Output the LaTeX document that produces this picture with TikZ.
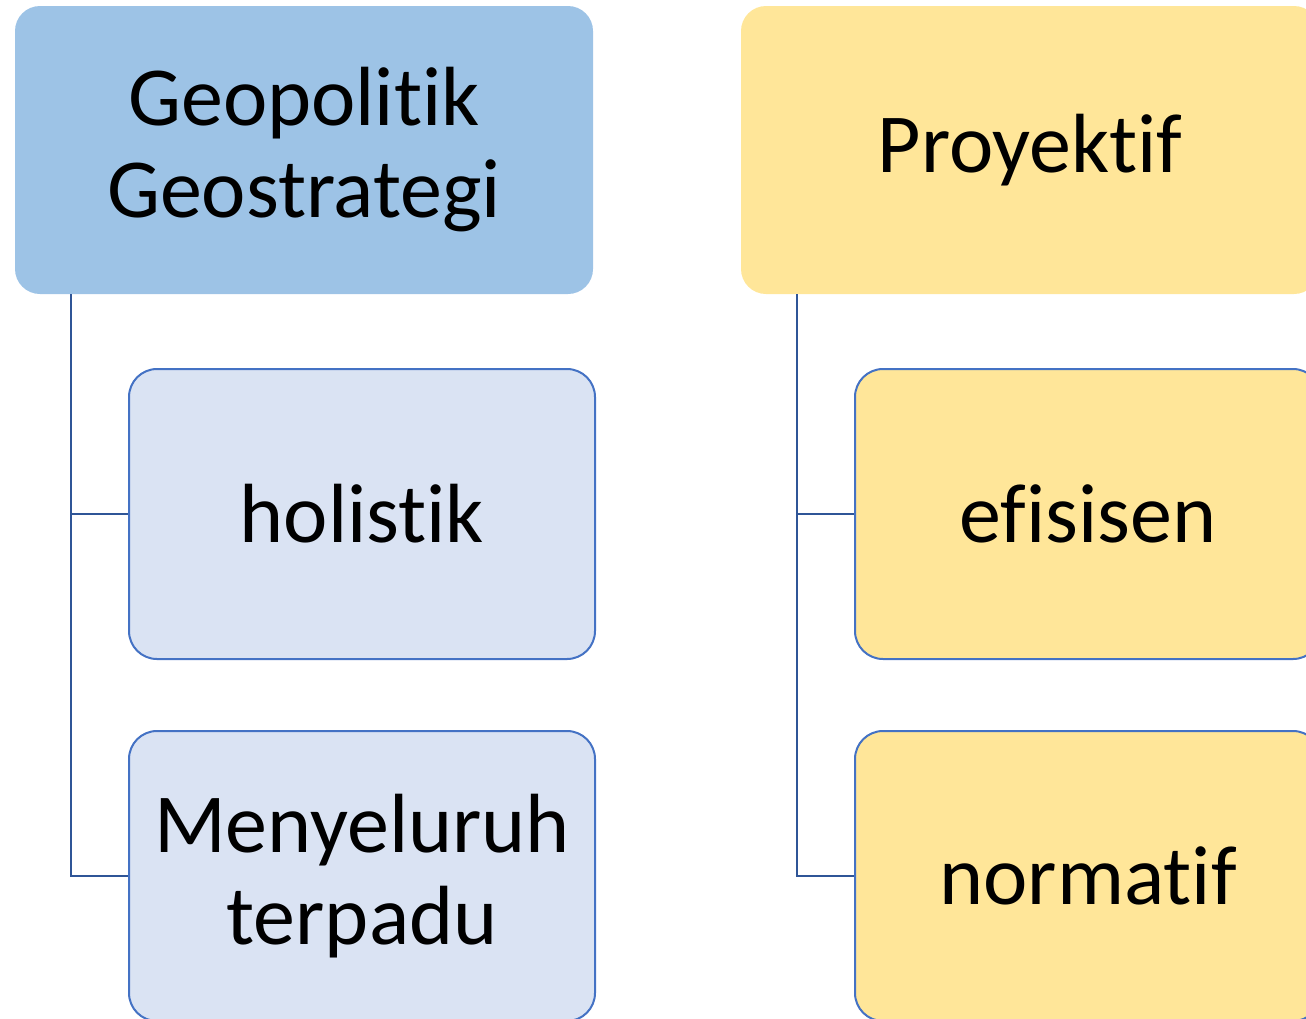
\documentclass[tikz,border=0pt]{standalone}
\usepackage{fontspec}
\setmainfont[Ligatures=NoCommon]{Carlito}
\usepackage{tikz}
\usetikzlibrary{positioning}
\definecolor{headblue}{HTML}{9DC3E6}
\definecolor{paleblue}{HTML}{DAE3F3}
\definecolor{paleyellow}{HTML}{FFE699}
\definecolor{edgeblue}{HTML}{4472C4}
\definecolor{linkblue}{HTML}{2F5597}

\begin{document}
\begin{tikzpicture}[x=1pt,y=-1pt,
  head/.style={rectangle,rounded corners=25pt,minimum width=578pt,minimum height=288pt,align=center,font=\fontsize{84}{92}\selectfont},
  item/.style={rectangle,rounded corners=28pt,draw=edgeblue,line width=2pt,minimum width=466pt,minimum height=290pt,align=center,font=\fontsize{84}{92}\selectfont},
  link/.style={draw=linkblue,line width=2.5pt}]
            \useasboundingbox (0,0) rectangle (1306,1018);
            \clip (0,0) rectangle (1306,1018);

            \node[head,fill=headblue] (geo) at (304,150) {Geopolitik\\Geostrategi};
            \node[head,fill=paleyellow] (proy) at (1030,150) {Proyektif};

            \node[item,fill=paleblue] (hol) at (362,514) {holistik};
            \node[item,fill=paleblue] (men) at (362,876) {Menyeluruh\\terpadu};
            \node[item,fill=paleyellow] (efi) at (1088,514) {efisisen};
            \node[item,fill=paleyellow] (nor) at (1088,876) {normatif};

            \draw[link] ([xshift=56pt]geo.south west) |- (hol.west);
            \draw[link] ([xshift=56pt]geo.south west) |- (men.west);
            \draw[link] ([xshift=56pt]proy.south west) |- (efi.west);
            \draw[link] ([xshift=56pt]proy.south west) |- (nor.west);

            \end{tikzpicture}
\end{document}
